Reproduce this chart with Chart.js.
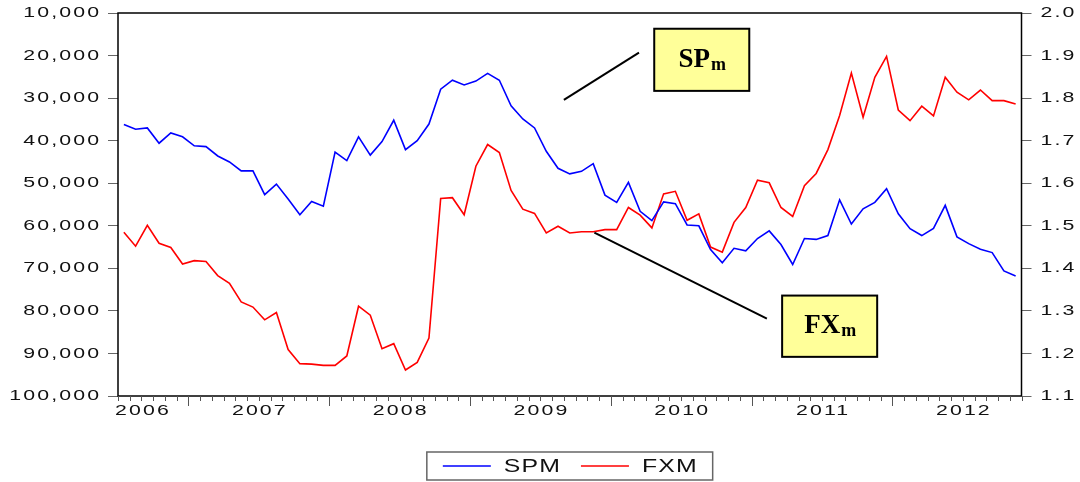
<!DOCTYPE html>
<html>
<head>
<meta charset="utf-8">
<script src="https://cdn.jsdelivr.net/npm/chart.js@4.4.1/dist/chart.umd.min.js"></script>
<style>
body { margin: 0; background: #fff; }
#wrap { width: 1080px; height: 482px; position: relative; }
</style>
</head>
<body>
<div id="wrap"><canvas id="chartCurve"></canvas></div>
<script>
/* monthly data, 2006M07 .. 2012M11 */
const months = [
    "2006M07","2006M08","2006M09","2006M10","2006M11","2006M12",
    "2007M01","2007M02","2007M03","2007M04","2007M05","2007M06","2007M07","2007M08","2007M09","2007M10","2007M11","2007M12",
    "2008M01","2008M02","2008M03","2008M04","2008M05","2008M06","2008M07","2008M08","2008M09","2008M10","2008M11","2008M12",
    "2009M01","2009M02","2009M03","2009M04","2009M05","2009M06","2009M07","2009M08","2009M09","2009M10","2009M11","2009M12",
    "2010M01","2010M02","2010M03","2010M04","2010M05","2010M06","2010M07","2010M08","2010M09","2010M10","2010M11","2010M12",
    "2011M01","2011M02","2011M03","2011M04","2011M05","2011M06","2011M07","2011M08","2011M09","2011M10","2011M11","2011M12",
    "2012M01","2012M02","2012M03","2012M04","2012M05","2012M06","2012M07","2012M08","2012M09","2012M10","2012M11"
];
const yearLabels = ["2006", "2007", "2008", "2009", "2010", "2011", "2012"];
// left axis (inverted)
const spm = [
    36200, 37300, 37000, 40600, 38200, 39100, 41200, 41400, 43600, 45000,
    47100, 47100, 52700, 50200, 53700, 57400, 54300, 55400, 42700, 44700,
    39100, 43400, 40200, 35200, 42100, 40000, 36100, 27900, 25800, 26900,
    26000, 24200, 25800, 31800, 34900, 37000, 42500, 46500, 47800, 47200,
    45400, 52800, 54500, 49800, 56600, 58800, 54400, 54800, 59800, 60000,
    65600, 68700, 65300, 65900, 63000, 61200, 64400, 69100, 63000, 63200,
    62300, 53900, 59600, 56000, 54500, 51300, 57200, 60700, 62300, 60600,
    55200, 62600, 64200, 65500, 66300, 70600, 71800
];
// right axis
const fxm = [
    1.485, 1.452, 1.501, 1.459, 1.449, 1.410, 1.418, 1.416, 1.383, 1.365,
    1.321, 1.309, 1.279, 1.296, 1.209, 1.176, 1.175, 1.172, 1.172, 1.194,
    1.311, 1.290, 1.211, 1.223, 1.161, 1.179, 1.236, 1.564, 1.566, 1.526,
    1.640, 1.691, 1.672, 1.583, 1.539, 1.529, 1.483, 1.499, 1.483, 1.486,
    1.486, 1.491, 1.491, 1.543, 1.525, 1.495, 1.575, 1.581, 1.513, 1.528,
    1.450, 1.438, 1.508, 1.543, 1.607, 1.601, 1.543, 1.522, 1.594, 1.623,
    1.679, 1.759, 1.859, 1.755, 1.849, 1.898, 1.772, 1.747, 1.781, 1.758,
    1.849, 1.814, 1.796, 1.819, 1.794, 1.794, 1.786
];

const SANS = "'Liberation Sans', Arial, sans-serif";
const SERIF = "'Liberation Serif', 'Times New Roman', serif";
const STRETCH = 1.42;   // the original text is drawn wide
const TEXT_COLOR = "#111";

// callout boxes, placed in data units (x = month index, y = left axis value)
const callouts = [
    {main: "SP", sub: "m", box: [45.2, 13700, 53.3, 28300], line: [37.5, 30400, 43.9, 19300]},
    {main: "FX", sub: "m", box: [56.1, 76400, 64.2, 90800], line: [40.1, 61600, 54.8, 81800]}
];

// wide text helper, align = left|center|right
function wideText(ctx, text, x, y, align, size, spacing) {
    ctx.save();
    ctx.font = size + "px " + SANS;
    ctx.letterSpacing = spacing + "px";
    ctx.fillStyle = TEXT_COLOR;
    ctx.textAlign = "left";
    ctx.textBaseline = "middle";
    const w = (ctx.measureText(text).width - spacing) * STRETCH;
    let left = x;
    if (align === "center") left = x - w / 2;
    if (align === "right") left = x - w;
    ctx.translate(left, y);
    ctx.scale(STRETCH, 1);
    ctx.fillText(text, 0, 0);
    ctx.restore();
    return w;
}
function wideWidth(ctx, text, size, spacing) {
    ctx.save();
    ctx.font = size + "px " + SANS;
    ctx.letterSpacing = spacing + "px";
    const w = (ctx.measureText(text).width - spacing) * STRETCH;
    ctx.restore();
    return w;
}

const decor = {
    id: "decor",
    afterDatasetsDraw(chart) {
        const ctx = chart.ctx, a = chart.chartArea, xs = chart.scales.x;
        const yl = chart.scales.yL, yr = chart.scales.yR;
        ctx.save();
        // plot frame
        ctx.strokeStyle = "#000";
        ctx.lineWidth = 1.5;
        ctx.strokeRect(a.left, a.top, a.right - a.left, a.bottom - a.top);

        // month ticks, longer at january
        ctx.strokeStyle = "#555";
        ctx.lineWidth = 1;
        for (let i = 0; i <= months.length; i++) {
            const x = Math.round(xs.getPixelForValue(i - 0.5)) + 0.5;
            const major = i < months.length && months[i].endsWith("M01");
            ctx.beginPath();
            ctx.moveTo(x, a.bottom);
            ctx.lineTo(x, a.bottom + (major ? 10 : 5));
            ctx.stroke();
        }
        ctx.restore();

        // axis labels
        yl.ticks.forEach(function (t) {
            wideText(ctx, t.value.toLocaleString("en-US"), a.left - 19, yl.getPixelForValue(t.value), "right", 15, 1.5);
        });
        yr.ticks.forEach(function (t) {
            wideText(ctx, t.value.toFixed(1), a.right + 19, yr.getPixelForValue(t.value), "left", 15, 1.5);
        });

        // year labels centred on the calendar year
        const y0 = parseInt(months[0].slice(0, 4)), m0 = parseInt(months[0].slice(5));
        yearLabels.forEach(function (yrLab) {
            const jan = (parseInt(yrLab) - y0) * 12 - (m0 - 1);
            const c = xs.getPixelForValue(jan + 5.5);
            const w = wideWidth(ctx, yrLab, 15, 1.5);
            let left = Math.max(c - w / 2, a.left - 3);
            left = Math.min(left, a.right - w + 3);
            wideText(ctx, yrLab, left, a.bottom + 15, "left", 15, 1.5);
        });

        // callouts
        ctx.save();
        callouts.forEach(function (n) {
            ctx.strokeStyle = "#000";
            ctx.lineWidth = 2;
            ctx.beginPath();
            ctx.moveTo(xs.getPixelForValue(n.line[0]), yl.getPixelForValue(n.line[1]));
            ctx.lineTo(xs.getPixelForValue(n.line[2]), yl.getPixelForValue(n.line[3]));
            ctx.stroke();
            const bx0 = xs.getPixelForValue(n.box[0]), by0 = yl.getPixelForValue(n.box[1]);
            const bx1 = xs.getPixelForValue(n.box[2]), by1 = yl.getPixelForValue(n.box[3]);
            ctx.fillStyle = "#ffff99";
            ctx.fillRect(bx0, by0, bx1 - bx0, by1 - by0);
            ctx.strokeRect(bx0, by0, bx1 - bx0, by1 - by0);
            ctx.fillStyle = "#000";
            ctx.textBaseline = "alphabetic";
            ctx.textAlign = "left";
            ctx.font = "bold 27px " + SERIF;
            const w1 = ctx.measureText(n.main).width;
            ctx.font = "bold 18px " + SERIF;
            const w2 = ctx.measureText(n.sub).width;
            const sx = (bx0 + bx1) / 2 - (w1 + w2) / 2;
            const cy = (by0 + by1) / 2;
            ctx.font = "bold 27px " + SERIF;
            ctx.fillText(n.main, sx, cy + 7);
            ctx.font = "bold 18px " + SERIF;
            ctx.fillText(n.sub, sx + w1 + 1, cy + 10);
        });
        ctx.restore();
    },
    afterDraw(chart) {
        // legend in a bordered box under the plot
        const ctx = chart.ctx, a = chart.chartArea;
        const sets = chart.data.datasets;
        const size = 17.5, sp = 0.8;
        const lineLen = 48, gap = 13, between = 21, pad = 16;
        const widths = sets.map(d => wideWidth(ctx, d.label, size, sp));
        let total = pad * 2 + between * (sets.length - 1);
        widths.forEach(w => { total += lineLen + gap + w; });
        const left = (a.left + a.right) / 2 - total / 2;
        const top = 452, h = 28, cy = top + h / 2;
        ctx.save();
        ctx.strokeStyle = "#666";
        ctx.lineWidth = 1.5;
        ctx.strokeRect(left, top, total, h);
        let x = left + pad;
        sets.forEach(function (d, i) {
            ctx.strokeStyle = d.borderColor;
            ctx.lineWidth = 1.5;
            ctx.beginPath();
            ctx.moveTo(x, cy);
            ctx.lineTo(x + lineLen, cy);
            ctx.stroke();
            x += lineLen + gap;
            wideText(ctx, d.label, x, cy + 1, "left", size, sp);
            x += widths[i] + between;
        });
        ctx.restore();
    }
};

var ctxGraph = document.getElementById("chartCurve").getContext("2d");
var chartCurve = new Chart(ctxGraph, {
    type: "line",
    data: {
        labels: months,
        datasets: [
            {label: "SPM", data: spm, yAxisID: "yL", borderColor: "#0000ff", borderWidth: 1.6, pointRadius: 0, tension: 0, fill: false},
            {label: "FXM", data: fxm, yAxisID: "yR", borderColor: "#ff0000", borderWidth: 1.6, pointRadius: 0, tension: 0, fill: false}
        ]
    },
    options: {
        responsive: true,
        maintainAspectRatio: false,
        animation: false,
        layout: {padding: {top: 13, right: 0, bottom: 0, left: 0}},
        plugins: {
            legend: {display: false},
            tooltip: {enabled: false}
        },
        scales: {
            x: {
                type: "category",
                offset: true,
                grid: {display: false},
                border: {display: false},
                ticks: {display: false},
                afterFit: function (s) { s.height = 86; }
            },
            yL: {
                position: "left",
                reverse: true,
                min: 10000,
                max: 100000,
                ticks: {stepSize: 10000, display: false},
                grid: {drawOnChartArea: false, tickLength: 10, color: "#666"},
                border: {display: false},
                afterFit: function (s) { s.width = 118; }
            },
            yR: {
                position: "right",
                min: 1.1,
                max: 2.0,
                ticks: {stepSize: 0.1, display: false},
                grid: {drawOnChartArea: false, tickLength: 10, color: "#666"},
                border: {display: false},
                afterFit: function (s) { s.width = 58.5; }
            }
        }
    },
    plugins: [decor]
});
</script>
</body>
</html>
